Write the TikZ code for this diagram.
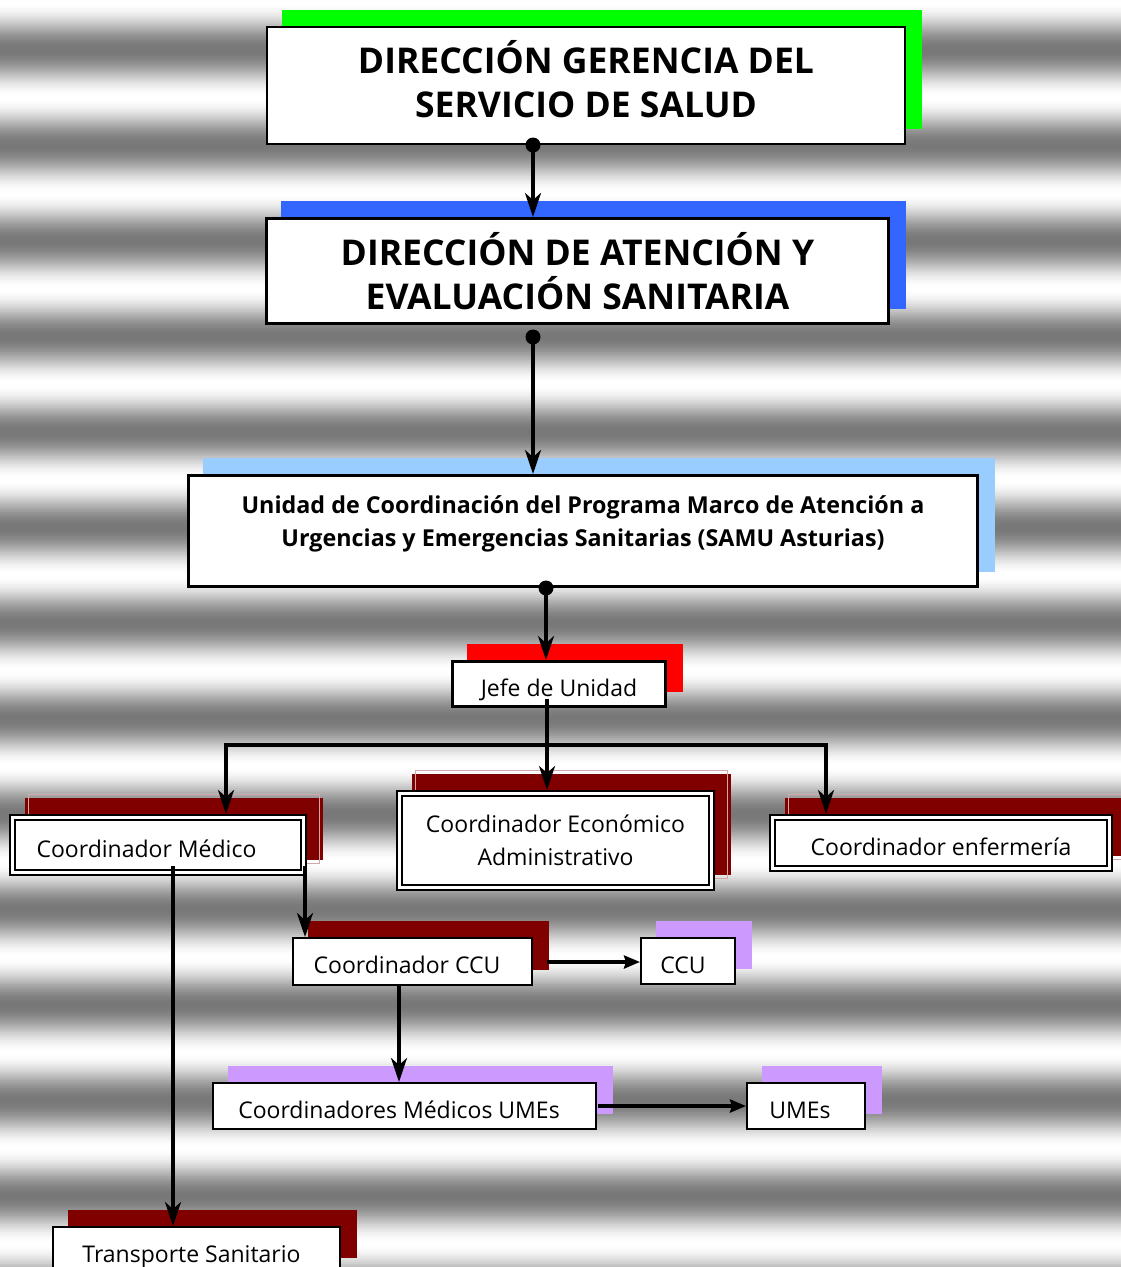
\documentclass[tikz,border=0pt]{standalone}
\usepackage{fontspec}
\setmainfont{Open Sans}
\usetikzlibrary{arrows.meta,calc}
\pgfdeclarelayer{bg}
\pgfdeclarelayer{sh}
\pgfsetlayers{bg,sh,main}
\definecolor{sgreen}{HTML}{00FF00}
\definecolor{sblue}{HTML}{3366FF}
\definecolor{slblue}{HTML}{99CCFF}
\definecolor{sred}{HTML}{FF0000}
\definecolor{sdred}{HTML}{800000}
\definecolor{spurple}{HTML}{CC99FF}
\definecolor{sline}{HTML}{D0A8A8}
\tikzset{
  box/.style={draw=black, fill=white, line width=2pt, inner sep=0pt},
  thickbox/.style={box, line width=3pt},
  dbox/.style={draw=black, fill=white, line width=2pt, double=white, double distance=3pt, inner sep=0pt, outer sep=3.5pt},
  head/.style={font=\fontsize{35.5}{44}\selectfont\bfseries, align=center},
  normal/.style={font=\fontsize{23}{33}\selectfont},
  low/.style={text height=24pt, text depth=0pt},
  conn/.style={line width=3.4pt, -{Stealth[length=24pt, width=16pt, inset=7pt]}},
  hconn/.style={line width=3.4pt, -{Stealth[length=16pt, width=13pt, inset=2pt]}},
  plain/.style={line width=3.4pt},
  dot/.style={fill=black}
}
\begin{document}
\begin{tikzpicture}[x=1pt,y=-1pt]
\useasboundingbox (0,0) rectangle (1121,1267);
\clip (0,0) rectangle (1121,1267);
% background stripes
\begin{pgfonlayer}{bg}
\foreach \i in {0,...,633}{
  \pgfmathsetmacro\yy{2*\i}
  \pgfmathsetmacro\ang{(\yy-49)*3.769634}
  \pgfmathsetmacro\v{1-0.53*(1+cos(\ang))/2}
  \definecolor{cc}{gray}{\v}
  \fill[cc] (-1,\yy) rectangle (1122,{\yy+2.6});
}
\end{pgfonlayer}

% boxes
\node[box, head, minimum width=638pt, minimum height=117pt] (g1) at (586,85.5)
  {\raisebox{7pt}{\begin{tabular}{@{}c@{}}DIRECCIÓN GERENCIA DEL\\SERVICIO DE SALUD\end{tabular}}};
\node[thickbox, head, minimum width=622pt, minimum height=105pt] (g2) at (577.5,271)
  {DIRECCIÓN DE ATENCIÓN Y\\EVALUACIÓN SANITARIA};
\node[thickbox, font=\fontsize{23.3}{33}\selectfont\bfseries, minimum width=789pt, minimum height=111pt] (g3) at (583,531)
  {\raisebox{1.5pt}[0pt][0pt]{\begin{tabular}{@{}c@{}}Unidad de Coordinación del Programa Marco de Atención a\\[0pt]Urgencias y Emergencias Sanitarias (SAMU Asturias)\end{tabular}}};
\node[thickbox, normal, low, minimum width=213pt, minimum height=45pt] (jefe) at (559,684)
  {Jefe de Unidad};
\node[dbox, normal, low, minimum width=291pt, minimum height=55pt] (cmed) at (158,845)
  {Coordinador Médico\hspace*{23pt}};
\node[dbox, normal, align=center, minimum width=312pt, minimum height=94pt] (ceco) at (555.5,840.5)
  {Coordinador Económico\\Administrativo};
\node[dbox, normal, low, minimum width=337pt, minimum height=51pt] (cenf) at (941,843)
  {Coordinador enfermería};
\node[box, normal, low, minimum width=239pt, minimum height=47pt] (cccu) at (412.5,961.5)
  {Coordinador CCU\hspace*{11pt}};
\node[box, normal, low, minimum width=94pt, minimum height=46pt] (ccu) at (688,961)
  {CCU\hspace*{10pt}};
\node[box, normal, low, minimum width=383pt, minimum height=46pt] (cume) at (404.5,1106)
  {Coordinadores Médicos UMEs\hspace*{11pt}};
\node[box, normal, low, minimum width=118pt, minimum height=46pt] (umes) at (806,1106)
  {UMEs\hspace*{12pt}};
\node[box, normal, low, minimum width=287pt, minimum height=46pt] (trans) at (196.5,1250)
  {Transporte Sanitario\hspace*{10pt}};

% shadows
\begin{pgfonlayer}{sh}
\foreach \n/\c in {g1/sgreen, g2/sblue, g3/slblue, jefe/sred, cmed/sdred, ceco/sdred, cenf/sdred, cccu/sdred, ccu/spurple, cume/spurple, umes/spurple, trans/sdred}{
  \fill[\c] ($(\n.south west)+(16,-16)$) rectangle ($(\n.north east)+(16,-16)$);
}
\foreach \n in {cmed, ceco, cenf}{
  \draw[sline, line width=0.9pt] ($(\n.south west)+(19.5,-12.5)$) rectangle ($(\n.north east)+(12.5,-19.5)$);
}
\end{pgfonlayer}

% connectors
\coordinate (a1) at (533,145);
\coordinate (a2) at (533,337);
\coordinate (a3) at (546,588);
\coordinate (j1) at (547,699);
\coordinate (hl) at (226,745);
\coordinate (hr) at (826,745);
\coordinate (m1) at (305,866);
\coordinate (m2) at (173,866);
\coordinate (c1) at (547,962);
\coordinate (c2) at (399,986);
\coordinate (u1) at (598,1106);

\draw[conn] (a1) -- (g2.north -| a1);
\fill[dot] (a1) circle (7.5pt);
\draw[conn] (a2) -- (g3.north -| a2);
\fill[dot] (a2) circle (7.5pt);
\draw[conn] (a3) -- (jefe.north -| a3);
\fill[dot] (a3) circle (7.5pt);

\draw[conn] (j1) -- (ceco.north -| j1);
\draw[plain] ([xshift=-1.7pt]hl) -- ([xshift=1.7pt]hr);
\draw[conn] ([yshift=1.7pt]hl) -- (cmed.north -| hl);
\draw[conn] ([yshift=1.7pt]hr) -- (cenf.north -| hr);

\draw[conn] (m1) -- (cccu.north -| m1);
\draw[conn] (m2) -- (trans.north -| m2);
\draw[hconn] (c1) -- (ccu.west |- c1);
\draw[conn] (c2) -- (cume.north -| c2);
\draw[hconn] (u1) -- (umes.west |- u1);
\end{tikzpicture}
\end{document}
